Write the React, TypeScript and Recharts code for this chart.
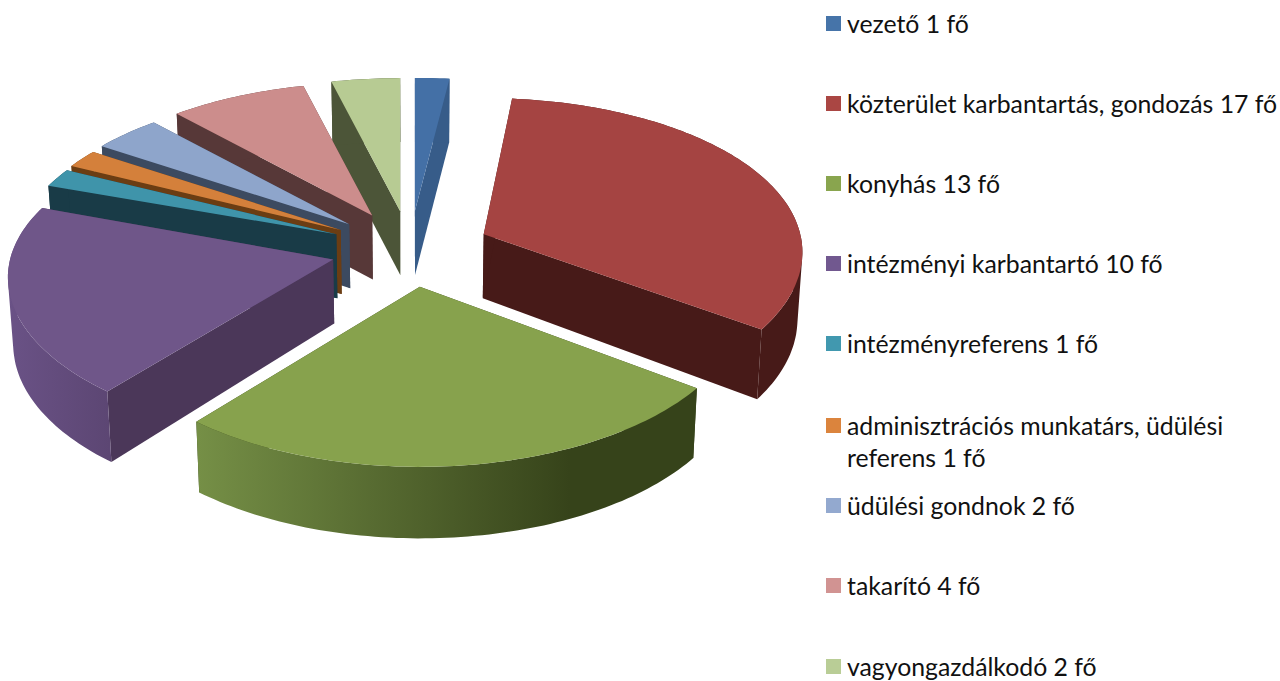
import { PieChart, Pie, Legend } from 'recharts'

const categories = [
  'vezető 1 fő',
  'közterület karbantartás, gondozás 17 fő',
  'konyhás 13 fő',
  'intézményi karbantartó 10 fő',
  'intézményreferens 1 fő',
  'adminisztrációs munkatárs, üdülési referens 1 fő',
  'üdülési gondnok 2 fő',
  'takarító 4 fő',
  'vagyongazdálkodó 2 fő',
]
const headcounts = [1, 17, 13, 10, 1, 1, 2, 4, 2]

const topColors = ['#4470a6', '#a54442', '#87a24d', '#6f5689', '#3f94aa', '#d4803b', '#8ea5cb', '#cc8d8c', '#b7cb93']
const legendColors = ['#4674a9', '#aa4643', '#89a54e', '#71588f', '#4198af', '#db843d', '#93a9cf', '#d19392', '#b9cd96']
const wallColors = ['#375c89', '#471a18', '#36431a', '#4b3759', '#193b47', '#6b3d13', '#3c4a60', '#573838', '#4c5538']
// outer rim shading: colour at the left end, colour at the right end, x range
const rimShades: Record<number, [string, string, number, number]> = {
  2: ['#758f46', '#36431a', 198, 570],
  3: ['#6a5286', '#5c4673', 8, 110],
}
const legendTops = [8, 88, 168, 248, 328, 410, 490, 570, 651]

// small per-slice corrections for the original's 3D camera
const rimScale = [1, 0.99, 1, 1.01, 1, 1, 1, 1, 1]
const rimShiftY = [0, -3, 0, -3, 0, 0, 0, 0, 0]
const rimTwist = [0, 1.2, 0, 0, 0, 0, 0, 0, 0]

// drawn back to front, so the table runs the other way round the clock
const pieData = categories.map((name, i) => ({ name, value: headcounts[i], idx: i })).reverse()

const RADIUS_Y_RATIO = 0.48
const PERSPECTIVE_X = 0.135
const PERSPECTIVE_Y = 0.15
const EXPLODE_X = 80
const EXPLODE_Y = 38
const DEPTH = 64
const DEPTH_FRONT = 7.5
const WALL_TAPER = 0.013
const VANISH_X = 420

type Pt = { x: number; y: number }

const pts = (list: Pt[]) => list.map((p) => `${p.x.toFixed(1)},${p.y.toFixed(1)}`).join(' ')

// same winding for every quad, otherwise the folded part of the strip cancels out
function quadPath(q: Pt[]) {
  const area = q.reduce((sum, p, i) => {
    const n = q[(i + 1) % q.length]
    return sum + p.x * n.y - n.x * p.y
  }, 0)
  const ordered = area < 0 ? [...q].reverse() : q
  return `M${pts(ordered).replace(/ /g, ' L')}Z`
}

function Slice3D(props: any) {
  const { cx, cy, outerRadius, startAngle, endAngle, idx } = props
  // recharts angles: 0 = east, counter-clockwise. Here: clock angle from north
  const a0 = ((90 - startAngle - rimTwist[idx]) * Math.PI) / 180
  const a1 = ((90 - endAngle - rimTwist[idx]) * Math.PI) / 180
  const mid = ((90 - (startAngle + endAngle) / 2) * Math.PI) / 180
  const ax = cx + EXPLODE_X * Math.sin(mid)
  const ay = cy - EXPLODE_Y * Math.cos(mid)

  const rim = (a: number) => {
    const v = Math.cos(a)
    const u = Math.sin(a)
    return {
      x: ax + (outerRadius * rimScale[idx] * u) / (1 + PERSPECTIVE_X * v),
      y: ay + rimShiftY[idx] - (outerRadius * RADIUS_Y_RATIO * v) / (1 + PERSPECTIVE_Y * v),
      h: DEPTH + (v < 0 ? DEPTH_FRONT * Math.sqrt(-v) : 0),
    }
  }
  const steps = Math.max(2, Math.ceil(Math.abs(a1 - a0) / 0.02))
  const arc = Array.from({ length: steps + 1 }, (_, i) => rim(a0 + ((a1 - a0) * i) / steps))
  const first = arc[0]
  const last = arc[arc.length - 1]
  const down = (p: Pt & { h: number }) => ({ x: p.x - (p.x - VANISH_X) * WALL_TAPER, y: p.y + p.h })
  const apex = { x: ax, y: ay, h: DEPTH }

  const shade = rimShades[idx]
  const gradId = `rim-${idx}`
  const wall = wallColors[idx]
  const rimPath = arc
    .slice(1)
    .map((p, i) => quadPath([arc[i], p, down(p), down(arc[i])]))
    .join(' ')
  return (
    <g>
      {shade && (
        <defs>
          <linearGradient id={gradId} gradientUnits="userSpaceOnUse" x1={shade[2]} x2={shade[3]} y1={0} y2={0}>
            <stop offset="0%" stopColor={shade[0]} />
            <stop offset="100%" stopColor={shade[1]} />
          </linearGradient>
        </defs>
      )}
      <polygon points={pts([apex, first, down(first), down(apex)])} fill={wall} />
      <polygon points={pts([apex, last, down(last), down(apex)])} fill={wall} />
      <path d={rimPath} fill={shade ? `url(#${gradId})` : wall} />
      <polygon points={pts([apex, ...arc])} fill={topColors[idx]} />
    </g>
  )
}

function ChartLegend() {
  return (
    <div style={{ position: 'relative', width: 454, height: 681, fontFamily: 'Lato, sans-serif', fontSize: 24.8, lineHeight: '32px', color: '#111' }}>
      {categories.map((name, i) => (
        <div key={name} style={{ position: 'absolute', left: 0, top: legendTops[i], width: 454 }}>
          <span style={{ position: 'absolute', left: 0, top: 8, width: 15, height: 15, background: legendColors[i] }} />
          <div style={{ marginLeft: 21, width: i === 1 ? 433 : 400 }}>{name}</div>
        </div>
      ))}
    </div>
  )
}

export default function App() {
  return (
    <div style={{ position: 'absolute', left: 0, top: 0, width: 1280, height: 681, background: '#fff', overflow: 'hidden' }}>
      <PieChart width={1280} height={681} margin={{ top: 0, right: 0, bottom: 0, left: 0 }}>
        <Pie
          data={pieData}
          dataKey="value"
          nameKey="name"
          cx={410}
          cy={249}
          outerRadius={319}
          startAngle={90}
          endAngle={450}
          stroke="none"
          shape={Slice3D}
          isAnimationActive={false}
        />
        <Legend
          layout="vertical"
          align="right"
          verticalAlign="top"
          content={ChartLegend}
          wrapperStyle={{ left: 826, top: 0, width: 454, height: 681 }}
        />
      </PieChart>
    </div>
  )
}
